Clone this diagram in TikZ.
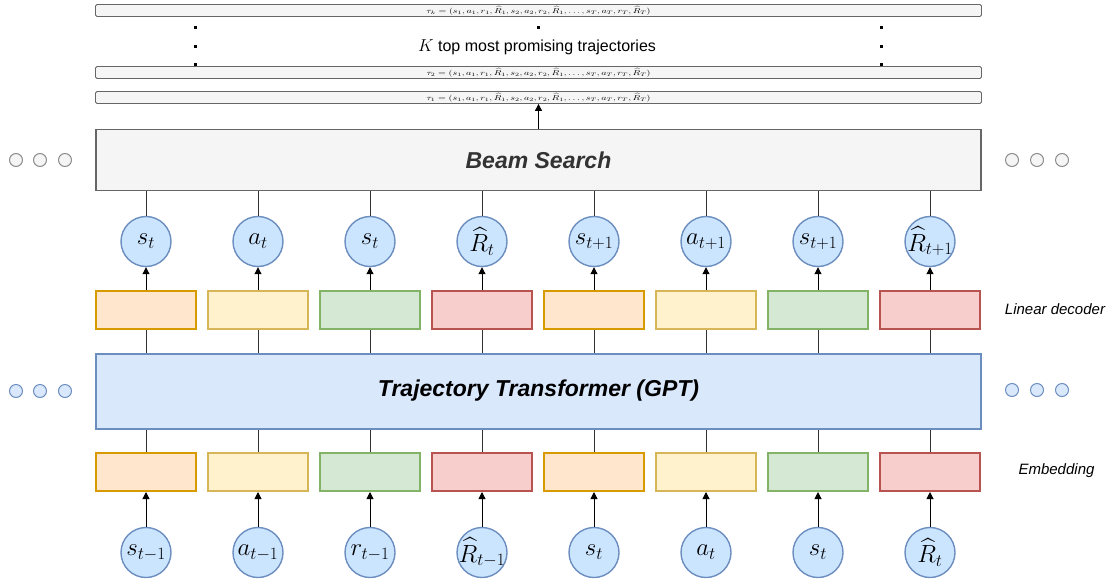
\documentclass[tikz,border=0pt]{standalone}
\usepackage{fontspec}
\setmainfont{Liberation Sans}
\usepackage{amsmath}
\usepackage{graphicx}
\usetikzlibrary{arrows.meta}

\definecolor{orF}{HTML}{FFE6CC}\definecolor{orD}{HTML}{D79B00}
\definecolor{yeF}{HTML}{FFF2CC}\definecolor{yeD}{HTML}{D6B656}
\definecolor{grF}{HTML}{D5E8D4}\definecolor{grD}{HTML}{82B366}
\definecolor{reF}{HTML}{F8CECC}\definecolor{reD}{HTML}{B85450}
\definecolor{blF}{HTML}{DAE8FC}\definecolor{blD}{HTML}{6C8EBF}
\definecolor{tokF}{HTML}{CCE5FF}
\definecolor{gyF}{HTML}{F5F5F5}\definecolor{gyD}{HTML}{666666}
\definecolor{gyDot}{HTML}{8C8C8C}
\definecolor{txtG}{HTML}{333333}

\tikzset{
  slab/.style={draw=#1D, fill=#1F, line width=2pt, minimum width=100pt,
               minimum height=38pt, inner sep=0pt},
  token/.style={circle, draw=blD, fill=tokF, line width=1.4pt,
                minimum size=50pt, inner sep=0pt, font=\fontsize{24}{26}\selectfont},
  bigbox/.style={draw=#1D, fill=#1F, line width=1.4pt, minimum width=885pt,
                 inner sep=0pt, font=\fontsize{23}{27}\selectfont\bfseries\itshape},
  trajbar/.style={draw=gyD, fill=gyF, line width=0.8pt, rounded corners=1.5pt,
                  minimum width=886pt, minimum height=12pt, inner sep=0pt},
  sidelab/.style={font=\fontsize{15}{18}\selectfont\itshape},
  arr/.style={-{Triangle[length=7pt,width=7pt]}, line width=1pt},
  link/.style={line width=1pt, draw=txtG},
  gdot/.style={circle, draw=gyDot, fill=gyF, line width=1pt, minimum size=13pt, inner sep=0pt},
  bdot/.style={circle, draw=blD, fill=blF, line width=1pt, minimum size=13pt, inner sep=0pt},
}

% a token label that never widens its circle
\newcommand{\toklabel}[1]{\makebox[0pt]{$#1$}}
\newcommand{\trajtext}[1]{\resizebox{224pt}{7pt}{$\tau_{#1}=(s_1,a_1,r_1,\widehat{R}_1,s_2,a_2,r_2,\widehat{R}_1,\ldots,s_T,a_T,r_T,\widehat{R}_T)$}}

\begin{document}
\begin{tikzpicture}[x=1pt,y=-1pt]
\useasboundingbox (0,0) rectangle (1111,581);

% candidate trajectories
\node[trajbar] (tauk) at (538.5,10.5) {\trajtext{k}};
\node[trajbar] (tau2) at (538.5,72.5) {\trajtext{2}};
\node[trajbar] (tau1) at (538.5,97.5) {\trajtext{1}};
\foreach \y in {27,46,64} {
  \fill (193.5,\y-1.5) rectangle ++(3,3);
  \fill (879.5,\y-1.5) rectangle ++(3,3);
}
\fill (536.5,25.5) rectangle ++(3,3);
\node[font=\fontsize{16}{18}\selectfont, inner sep=1pt] (ktext) at (537,47) {$K$ top most promising trajectories};

% beam search and transformer blocks
\node[bigbox=gy, minimum height=61pt, text=txtG] (beam) at (538.5,160) {Beam Search};
\node[bigbox=bl, minimum height=75pt, line width=2pt] (gpt) at (538.5,391) {Trajectory Transformer (GPT)};

\draw[arr] (beam) -- (tau1);

% context dots
\foreach \x in {16,40,65} {
  \node[gdot] at (\x,160) {};
  \node[bdot] at (\x,391) {};
}
\foreach \x in {1012,1037,1062} {
  \node[gdot] at (\x,160) {};
  \node[bdot] at (\x,390) {};
}

% token columns
\foreach \i/\c/\tl/\bl in {1/or/s_t/s_{t-1}, 2/ye/a_t/a_{t-1}, 3/gr/s_t/r_{t-1},
    4/re/\widehat{R}_t/\widehat{R}_{t-1}, 5/or/s_{t+1}/s_t, 6/ye/a_{t+1}/a_t,
    7/gr/s_{t+1}/s_t, 8/re/\widehat{R}_{t+1}/\widehat{R}_t} {
  \pgfmathsetmacro\x{34+112*\i}
  \node[token] (out\i) at (\x,241.5) {\toklabel{\tl}};
  \node[slab=\c] (dec\i) at (\x,310) {};
  \node[slab=\c] (emb\i) at (\x,472) {};
  \node[token] (in\i) at (\x,552.5) {\toklabel{\bl}};
  \draw[link] (out\i) -- (out\i |- beam.south);
  \draw[arr] (dec\i) -- (out\i);
  \draw[link] (dec\i) -- (dec\i |- gpt.north);
  \draw[link] (emb\i) -- (emb\i |- gpt.south);
  \draw[arr] (in\i) -- (emb\i);
}

\node[sidelab] (declab) at (1055,309) {Linear decoder};
\node[sidelab] (emblab) at (1056.5,471) {Embedding};
\end{tikzpicture}
\end{document}
